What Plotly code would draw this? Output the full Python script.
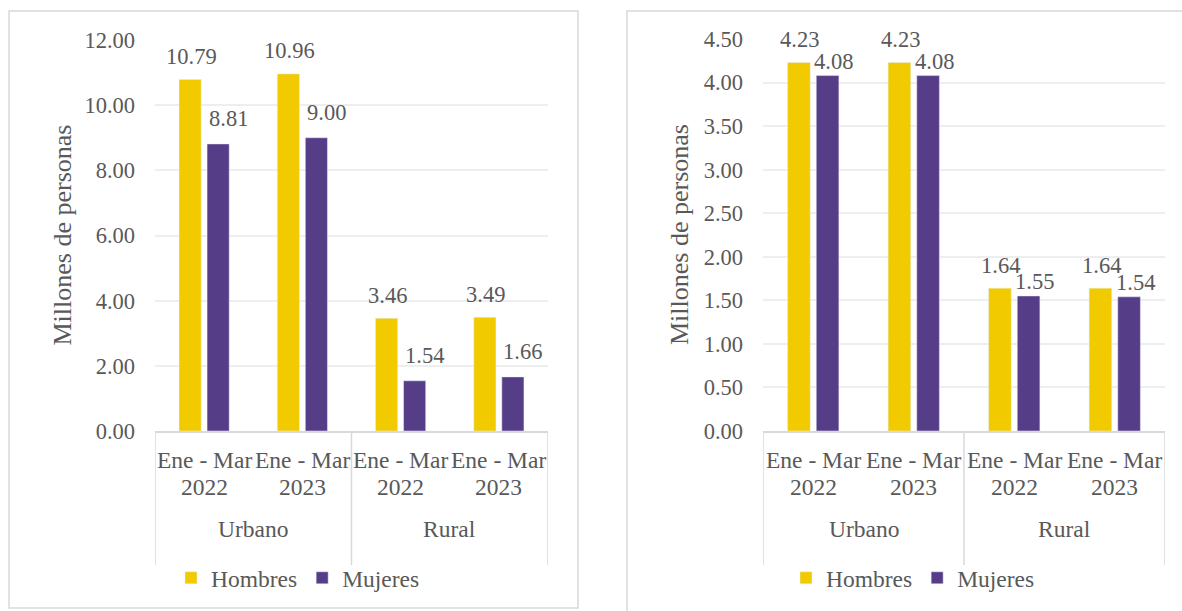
import plotly.graph_objects as go

# ---- data ----
periodos = ["Ene - Mar", "Ene - Mar", "Ene - Mar", "Ene - Mar"]
anios = ["2022", "2023", "2022", "2023"]
areas = ["Urbano", "Rural"]
categorias = ["Urbano 2022", "Urbano 2023", "Rural 2022", "Rural 2023"]

izq_hombres = [10.79, 10.96, 3.46, 3.49]
izq_mujeres = [8.81, 9.00, 1.54, 1.66]
der_hombres = [4.23, 4.23, 1.64, 1.64]
der_mujeres = [4.08, 4.08, 1.55, 1.54]

eje_izq_ticks = [0, 2, 4, 6, 8, 10, 12]
eje_der_ticks = [0, 0.5, 1, 1.5, 2, 2.5, 3, 3.5, 4, 4.5]

# ---- style ----
W, H = 1182, 611
AMARILLO = "#F2CA00"
MORADO = "#553D87"
TEXTO = "#595959"
GRIS = "#D9D9D9"
REJILLA = "#EEEEEE"
FUENTE = "Liberation Serif"


def px(x):
    return x / W


def py(y):
    return 1 - y / H


def fuente(size):
    return dict(family=FUENTE, size=size, color=TEXTO)


fig = go.Figure()

paneles = [
    dict(xa="x", ya="y", hom=izq_hombres, muj=izq_mujeres, leg="legend",
         left=155, right=548, top=40, yr=[0, 12], ticks=eje_izq_ticks,
         title_x=62, box=(9, 578, 11, 608), dy_h=23, dy_m=25, dx_m=10),
    dict(xa="x2", ya="y2", hom=der_hombres, muj=der_mujeres, leg="legend2",
         left=763, right=1165, top=39, yr=[0, 4.5], ticks=eje_der_ticks,
         title_x=680, box=(627, 1200, 11, 640), dy_h=23, dy_m=14, dx_m=6),
]
BOTTOM = 431

shapes = []
annotations = []

for i, p in enumerate(paneles):
    fig.add_trace(go.Bar(x=categorias, y=p["hom"], name="Hombres",
                         marker_color=AMARILLO, xaxis=p["xa"], yaxis=p["ya"],
                         legend=p["leg"], offsetgroup="h"))
    fig.add_trace(go.Bar(x=categorias, y=p["muj"], name="Mujeres",
                         marker_color=MORADO, xaxis=p["xa"], yaxis=p["ya"],
                         legend=p["leg"], offsetgroup="m"))

    # panel border
    x0, x1, y0, y1 = p["box"]
    shapes.append(dict(type="rect", xref="paper", yref="paper",
                       x0=px(x0), x1=px(x1), y0=py(y1), y1=py(y0),
                       line=dict(color=GRIS, width=1.5), layer="below"))

    xr = p["xa"]
    yr = p["ya"]
    # category separators below the axis
    for xv in [-0.5, 1.5, 3.5]:
        shapes.append(dict(type="line", xref=xr, yref="paper",
                           x0=xv, x1=xv, y0=py(BOTTOM), y1=py(565),
                           line=dict(color=GRIS, width=1.5)))

    # category labels
    for k in range(4):
        annotations.append(dict(xref=xr, yref="paper", x=k, y=py(460),
                                xanchor="center", yanchor="middle",
                                text=periodos[k], showarrow=False, font=fuente(23.5)))
        annotations.append(dict(xref=xr, yref="paper", x=k, y=py(487),
                                xanchor="center", yanchor="middle",
                                text=anios[k], showarrow=False, font=fuente(23.5)))
    for k, a in enumerate(areas):
        annotations.append(dict(xref=xr, yref="paper", x=0.5 + 2 * k, y=py(529),
                                xanchor="center", yanchor="middle",
                                text=a, showarrow=False, font=fuente(23.5)))

    # axis title
    annotations.append(dict(xref="paper", yref="paper", x=px(p["title_x"]),
                            y=py((p["top"] + BOTTOM) / 2), text="Millones de personas",
                            xanchor="center", yanchor="middle",
                            textangle=-90, showarrow=False, font=fuente(26)))

    # data labels
    slot = (p["right"] - p["left"]) / 4 * 0.57 / 2
    for k in range(4):
        annotations.append(dict(xref=xr, yref=yr, x=k, y=p["hom"][k],
                                text=f"{p['hom'][k]:.2f}", showarrow=False,
                                xanchor="center", yanchor="middle",
                                xshift=-slot / 2 + 1, yshift=p["dy_h"], font=fuente(22.5)))
        annotations.append(dict(xref=xr, yref=yr, x=k, y=p["muj"][k],
                                text=f"{p['muj'][k]:.2f}", showarrow=False,
                                xanchor="center", yanchor="middle",
                                xshift=slot / 2 + p["dx_m"], yshift=p["dy_m"], font=fuente(22.5)))

fig.update_layout(
    width=W, height=H,
    font=fuente(22),
    margin=dict(l=0, r=0, t=0, b=0, autoexpand=False),
    paper_bgcolor="white", plot_bgcolor="white",
    barmode="group", bargap=0.43, bargroupgap=0.21,
    shapes=shapes, annotations=annotations,
    xaxis=dict(domain=[px(155), px(548)], anchor="y", showticklabels=False,
               ticks="", showline=True, linecolor=GRIS, linewidth=1.5,
               showgrid=False, range=[-0.5, 3.5], fixedrange=True, automargin=False),
    yaxis=dict(domain=[py(BOTTOM), py(40)], anchor="x", range=[0, 12],
               tickvals=eje_izq_ticks, tickformat=".2f", tickfont=fuente(22.5),
               showgrid=True, gridcolor=REJILLA, gridwidth=1.5, zeroline=False,
               showline=False, ticks="", ticklabelstandoff=19, automargin=False),
    xaxis2=dict(domain=[px(763), px(1165)], anchor="y2", showticklabels=False,
                ticks="", showline=True, linecolor=GRIS, linewidth=1.5,
                showgrid=False, range=[-0.5, 3.5], fixedrange=True, automargin=False),
    yaxis2=dict(domain=[py(BOTTOM), py(39)], anchor="x2", range=[0, 4.5],
                tickvals=eje_der_ticks, tickformat=".2f", tickfont=fuente(22.5),
                showgrid=True, gridcolor=REJILLA, gridwidth=1.5, zeroline=False,
                showline=False, ticks="", ticklabelstandoff=19, automargin=False),
    legend=dict(orientation="h", x=px(171), y=py(578), xanchor="left", yanchor="middle",
                font=fuente(23.5), itemwidth=30,
                bgcolor="rgba(0,0,0,0)", tracegroupgap=0),
    legend2=dict(orientation="h", x=px(786), y=py(578), xanchor="left", yanchor="middle",
                 font=fuente(23.5), itemwidth=30,
                 bgcolor="rgba(0,0,0,0)", tracegroupgap=0),
    showlegend=True,
)

fig.write_html("out.html")
